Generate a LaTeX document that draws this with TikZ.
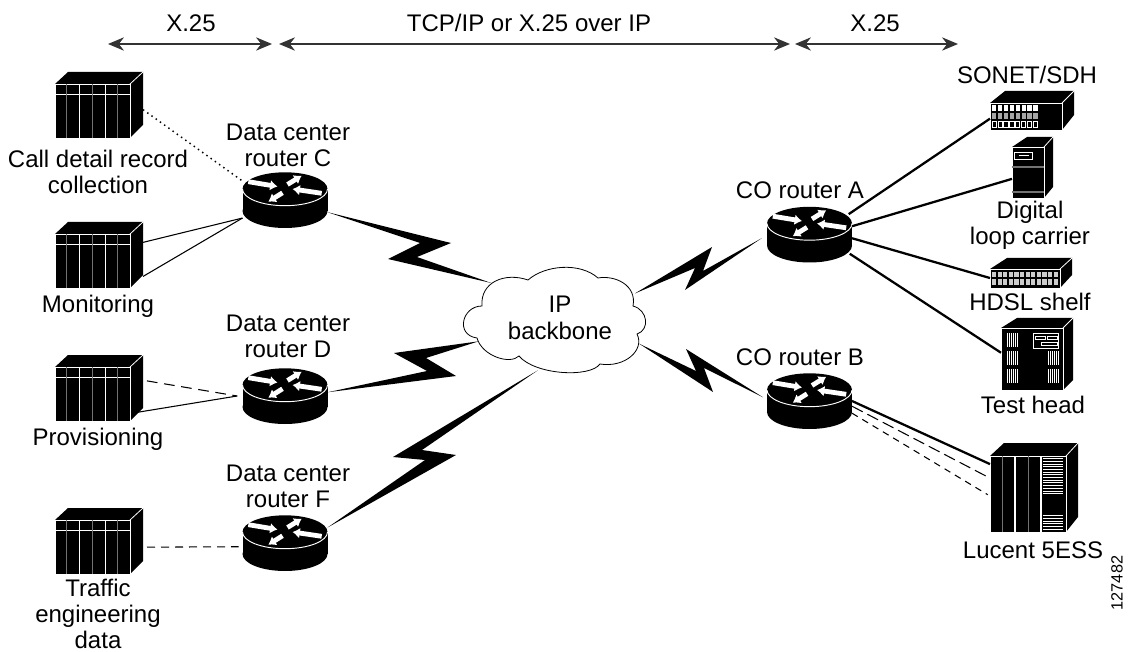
\documentclass[tikz,border=0pt]{standalone}
\usepackage{fontspec}
\setmainfont{Liberation Sans}
\usetikzlibrary{arrows.meta,calc,backgrounds,shapes.geometric}

\tikzset{
	devbox/.style={inner sep=0, outer sep=0},
	devlabel/.style={align=center, inner sep=0, font=\fontsize{18}{19.5}\selectfont},
	edge/.style={white, line width=0.6pt},
	faint/.style={black!55, line width=0.5pt},
	flow/.style={white, line width=3.6pt, -{Latex[length=5.5pt,width=8pt]}},
	spanarrow/.style={{Stealth[length=12pt,width=10pt]}-{Stealth[length=12pt,width=10pt]}, line width=1.1pt, black!80},
	thinlink/.style={line width=0.8pt},
	thicklink/.style={line width=1.7pt},
	bolt/.style={fill=black},
	router/.pic={
		\node[devbox, minimum width=63.75pt, minimum height=42pt] (-box) at (0,0) {};
		\fill[black] (0,11) circle[x radius=42.5, y radius=17];
		\fill[black] (-42.5,-11) rectangle (42.5,11);
		\fill[black] (0,-11) circle[x radius=42.5, y radius=16.7];
		\draw[white, line width=0.7pt] (-42.5,-11) .. controls (-42.5,-1.8) and (-23.5,5.7) .. (0,5.7) .. controls (23.5,5.7) and (42.5,-1.8) .. (42.5,-11);
		\draw[flow] (-36.7,-18.3) -- (-7.5,-13.5);
		\draw[flow] (2.5,-15.5) -- (16.7,-24.3);
		\draw[flow] (36.7,-6.7) -- (7.5,-11);
		\draw[flow] (-2.5,-7.2) -- (-16.7,1.7);
	},
	rack/.pic={
		\node[devbox, minimum width=66pt, minimum height=49.5pt] (-box) at (0,0) {};
		\fill[black] (-44,-21) -- (-31,-33) -- (44,-33) -- (44,20) -- (31,33) -- (-44,33) -- cycle;
		\draw[edge] (-44,33) -- (-44,-21) -- (31,-21) -- (31,33) -- cycle;
		\draw[edge] (31,-21) -- (44,-33);
		\draw[edge] (-44,-10.7) -- (31,-10.7);
		\foreach \xa in {-19.7,6} {
			\draw[edge] (\xa,-21) -- (\xa,33);
		}
		\foreach \xa in {-32.3,-6.7,18.3} {
			\draw[faint] (\xa,-21) -- (\xa,33);
		}
	},
	sonetbox/.pic={
		\node[devbox, minimum width=63pt, minimum height=29.25pt] (-box) at (0,0) {};
		\fill[black] (-42,-7.5) -- (-27,-19.5) -- (42,-19.5) -- (42,4.5) -- (30,19.5) -- (-42,19.5) -- cycle;
		\draw[edge] (-42,19.5) -- (-42,-7.5) -- (30,-7.5) -- (30,19.5) -- cycle;
		\draw[edge] (30,-7.5) -- (42,-19.5);
		\foreach \i in {0,...,7} {
			\fill[white] ({-40+5.9*\i},-5.5) rectangle ++(4.2,6);
			\fill[gray!70] ({-40+5.9*\i},2.5) rectangle ++(4.2,6);
			\draw[white, line width=0.5pt] ({-40+5.9*\i},10.5) rectangle ++(4.2,6);
		}
	},
	dlcbox/.pic={
		\node[devbox, minimum width=30.75pt, minimum height=45.75pt] (-box) at (0,0) {};
		\fill[black] (-20.5,-20.5) -- (-5.5,-30.5) -- (20.5,-30.5) -- (20.5,19.5) -- (11.5,30.5) -- (-20.5,30.5) -- cycle;
		\draw[edge] (-20.5,30.5) -- (-20.5,-20.5) -- (11.5,-20.5) -- (11.5,30.5) -- cycle;
		\draw[edge] (11.5,-20.5) -- (20.5,-30.5);
		\draw[edge] (-18.5,-15.5) rectangle (-0.5,-8.5);
		\draw[edge] (-14,-12) -- (-4,-12);
		\draw[faint, line width=1pt] (-20.5,-0.5) -- (11.5,-0.5);
		\draw[faint, line width=1pt] (-20.5,24.5) -- (11.5,24.5);
	},
	hdslbox/.pic={
		\node[devbox, minimum width=61.5pt, minimum height=22.5pt] (-box) at (0,0) {};
		\fill[black] (-41,-4) -- (-24,-15) -- (41,-15) -- (41,2) -- (29,15) -- (-41,15) -- cycle;
		\draw[edge] (-41,15) -- (-41,-4) -- (29,-4) -- (29,15) -- cycle;
		\draw[edge] (29,-4) -- (41,-15);
		\foreach \i in {0,...,11} {
			\fill[gray!40] ({-39+5.6*\i},-1) rectangle ++(4.2,5);
			\fill[gray!40] ({-39+5.6*\i},6) rectangle ++(4.2,6);
		}
	},
	testbox/.pic={
		\node[devbox, minimum width=54pt, minimum height=54pt] (-box) at (0,0) {};
		\fill[black] (-36,-26) -- (-20,-36) -- (36,-36) -- (36,26) -- (26,36) -- (-36,36) -- cycle;
		\draw[edge] (-36,36) -- (-36,-26) -- (26,-26) -- (26,36) -- cycle;
		\draw[edge] (26,-26) -- (36,-36);
		\foreach \ya in {-21,-3,15} {
			\foreach \xa in {-30,-28,...,-20} {
				\draw[white, line width=0.6pt] (\xa,\ya) -- ++(0,14);
			}
		}
		\foreach \ya in {-3,15} {
			\foreach \xa in {11,13,...,21} {
				\draw[white, line width=0.6pt] (\xa,\ya) -- ++(0,14);
			}
		}
		\draw[edge] (-4,-21) rectangle (21,-6);
		\draw[edge] (-2,-18) rectangle (8,-14.7);
		\draw[edge] (10,-18) rectangle (20,-14.7);
		\draw[edge] (4,-11.7) rectangle (20,-8.3);
	},
	switchbox/.pic={
		\node[devbox, minimum width=66pt, minimum height=66.75pt] (-box) at (0,0) {};
		\fill[black] (-44,-31.5) -- (-30,-44.5) -- (44,-44.5) -- (44,29.5) -- (32,44.5) -- (-44,44.5) -- cycle;
		\draw[edge] (-44,44.5) -- (-44,-31.5) -- (32,-31.5) -- (32,44.5) -- cycle;
		\draw[edge] (32,-31.5) -- (44,-44.5);
		\foreach \xa in {-19,7} {
			\draw[edge, line width=0.8pt] (\xa,-31.5) -- (\xa,44.5);
		}
		\foreach \xa in {-32,-6} {
			\draw[faint] (\xa,-31.5) -- (\xa,44.5);
		}
		\foreach \ya in {-29,-26.3,...,7.5} {
			\draw[white, line width=0.6pt] (9,\ya) -- (29,\ya);
		}
		\foreach \ya in {28,30.7,...,43} {
			\draw[white, line width=0.6pt] (9,\ya) -- (29,\ya);
		}
	},
}

\begin{document}
\begin{tikzpicture}[x=0.75pt, y=-0.75pt]
	\useasboundingbox (0,0) rectangle (1128,652);

	\coordinate (spanA) at (108,44);
	\coordinate (spanB) at (272,44);
	\coordinate (spanC) at (279,44);
	\coordinate (spanD) at (790,44);
	\coordinate (spanE) at (795,44);
	\coordinate (spanF) at (958,44);
	\draw[spanarrow] (spanA) -- (spanB);
	\draw[spanarrow] (spanC) -- (spanD);
	\draw[spanarrow] (spanE) -- (spanF);
	\node[devlabel] (spanlabelA) at (191,23) {X.25};
	\node[devlabel] (spanlabelB) at (529,23) {TCP/IP or X.25 over IP};
	\node[devlabel] (spanlabelC) at (875,23) {X.25};

	\pic (rackCall) at (99,105) {rack};
	\pic (rackMon) at (99,255) {rack};
	\pic (rackProv) at (99,388) {rack};
	\pic (rackTraffic) at (99,541) {rack};

	\pic (routerC) at (285,200) {router};
	\pic (routerD) at (285,396) {router};
	\pic (routerF) at (285,543) {router};
	\pic (routerA) at (809.5,234.5) {router};
	\pic (routerB) at (809.5,401) {router};

	\pic (sonet) at (1032,110.5) {sonetbox};
	\pic (dlc) at (1032.5,167.5) {dlcbox};
	\pic (hdsl) at (1031,273) {hdslbox};
	\pic (testhead) at (1037,354) {testbox};
	\pic (lucent) at (1034,487.5) {switchbox};

	\node[ellipse, devbox, minimum width=135pt, minimum height=81pt, align=center, font=\fontsize{18}{20.5}\selectfont] (cloud) at (560,318) {IP\\backbone};

	\begin{scope}[on background layer]
		\fill[bolt] (routerC-box.-16) -- (451,243) -- (417,257) -- (cloud.153) -- (388,259) -- (420,243) -- cycle;
		\fill[bolt] (routerD-box.5) -- (456,376) -- (426,358) -- (cloud.196) -- (394,353) -- (427,371) -- cycle;
		\fill[bolt] (routerF-box.20) -- (456,455) -- (422,450) -- (cloud.247) -- (393,457) -- (425,460) -- cycle;
		\fill[bolt] ([xshift=-4pt]cloud.17) -- (712,247) -- (703,271) -- ([xshift=-4pt]routerA-box.185) -- (685,290) -- (695,268) -- cycle;
		\fill[bolt] (cloud.-18) -- (713,392) -- (704,368) -- ([xshift=-3pt]routerB-box.175) -- (686,349) -- (696,371) -- cycle;
		\draw[fill=white, line width=0.6pt] (482,306) .. controls (462,306) and (455,335) .. (477,338)
			.. controls (482,356) and (510,365) .. (519,356)
			.. controls (535,375) and (590,378) .. (600,364)
			.. controls (625,368) and (645,350) .. (637,334)
			.. controls (650,330) and (648,310) .. (633,306)
			.. controls (637,285) and (615,275) .. (598,278)
			.. controls (580,262) and (545,265) .. (528,280)
			.. controls (505,272) and (480,282) .. cycle;
	\end{scope}

	\draw[thinlink, line width=1.1pt, dash pattern=on 1.1pt off 2.8pt] (rackCall-box.-6) -- (routerC-box.156);
	\draw[thinlink] (rackMon-box.16) -- (routerC-box.203);
	\draw[thinlink] (rackMon-box.-26) -- (routerC-box.203);
	\draw[thinlink, dash pattern=on 8pt off 5pt, shorten <=3pt] (rackProv-box.10) -- ([xshift=-4pt]routerD-box.west);
	\draw[thinlink, shorten <=-4pt] (rackProv-box.-28) -- ([xshift=-4pt]routerD-box.west);
	\draw[thinlink, dash pattern=on 6pt off 4.5pt, shorten <=3pt, shorten >=3pt] (rackTraffic-box.-8) -- (routerF-box.185);

	\draw[thicklink, shorten <=-3pt] (routerA-box.28) -- (sonet-box.191);
	\draw[thicklink] (routerA-box.11) -- (dlc-box.209);
	\draw[thicklink] (routerA-box.-5) -- (hdsl-box.187);
	\draw[thicklink, shorten <=-2pt] (routerA-box.-26) -- (testhead-box.178);
	\draw[thicklink] (routerB-box.0) -- (lucent-box.152);
	\draw[thinlink, dash pattern=on 9pt off 4pt] (routerB-box.-7) -- (lucent-box.168);
	\draw[thinlink, dash pattern=on 5pt off 4pt, shorten >=2pt] (routerB-box.-16) -- (lucent-box.191);

	\node[devlabel] (labelCall) at (98,172) {Call detail record\\collection};
	\node[devlabel] (labelMon) at (98,306) {Monitoring};
	\node[devlabel] (labelProv) at (98,439) {Provisioning};
	\node[devlabel] (labelTraffic) at (98,614) {Traffic\\engineering\\data};
	\node[devlabel] (labelC) at (288,145) {Data center\\router C};
	\node[devlabel] (labelD) at (288,336) {Data center\\router D};
	\node[devlabel] (labelF) at (288,486) {Data center\\router F};
	\node[devlabel] (labelA) at (800,190) {CO router A};
	\node[devlabel] (labelB) at (800,357) {CO router B};
	\node[devlabel] (labelSonet) at (1027,75) {SONET/SDH};
	\node[devlabel] (labelDlc) at (1030,225) {Digital\\loop carrier};
	\node[devlabel] (labelHdsl) at (1030,302) {HDSL shelf};
	\node[devlabel] (labelTest) at (1033,405) {Test head};
	\node[devlabel] (labelLucent) at (1033,550) {Lucent 5ESS};
	\node[rotate=90, inner sep=0, font=\fontsize{12.2}{14}\selectfont] (figno) at (1117,583) {127482};
\end{tikzpicture}
\end{document}
